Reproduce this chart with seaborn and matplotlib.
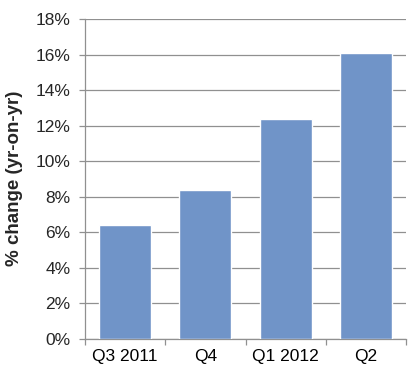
import numpy as np
import pandas as pd
import matplotlib
matplotlib.use('Agg')
import matplotlib.pyplot as plt
from matplotlib.ticker import FuncFormatter, FixedLocator
import seaborn as sns

quarters = ['Q3 2011', 'Q4', 'Q1 2012', 'Q2']
pct_change = [6.4, 8.4, 12.4, 16.1]

df = pd.DataFrame({'quarter': quarters, 'change': pct_change})

sns.set_style('white')
plt.rcParams['font.family'] = ['Liberation Sans', 'DejaVu Sans']

fig = plt.figure(figsize=(4.13, 3.82), dpi=100)
ax = fig.add_axes([0.206, 0.1126, 0.777, 0.8374])

sns.barplot(data=df, x='quarter', y='change', color='#7094c8', saturation=1,
            width=0.65, ax=ax, zorder=3)

ax.set_ylim(0, 18)
ax.set_xlim(-0.5, 3.5)
ax.set_yticks(np.arange(0, 19, 2))
ax.yaxis.set_major_formatter(FuncFormatter(lambda v, p: '{:.0f}%'.format(v)))
ax.yaxis.grid(True, color='#909090', linewidth=0.9, zorder=0)
ax.set_axisbelow(True)

# category boundary ticks on x axis
ax.xaxis.set_minor_locator(FixedLocator([-0.5, 0.5, 1.5, 2.5, 3.5]))
ax.tick_params(axis='x', which='major', length=0, labelsize=12.5, pad=7,
               colors='black')
ax.tick_params(axis='x', which='minor', length=4, width=0.9, color='#909090',
               direction='out', bottom=True)
ax.tick_params(axis='y', which='major', length=4, width=0.9, color='#909090',
               direction='out', left=True, labelsize=12.5, pad=6.5)

for s in ['top', 'right']:
    ax.spines[s].set_visible(False)
for s in ['left', 'bottom']:
    ax.spines[s].set_color('#909090')
    ax.spines[s].set_linewidth(0.9)

ax.set_xlabel('')
ax.set_ylabel('% change (yr-on-yr)', fontsize=13.5, fontweight='bold')
ax.yaxis.set_label_coords(-0.194, 0.503)

fig.savefig('out.png', dpi=100)
